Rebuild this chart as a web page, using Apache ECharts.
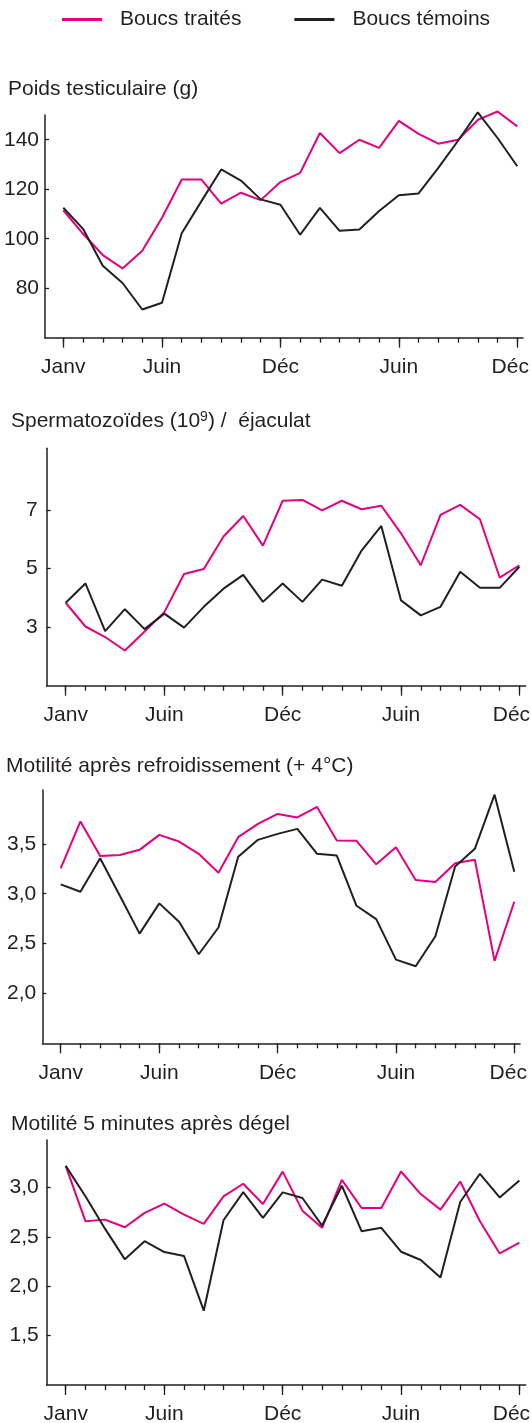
<!DOCTYPE html>
<html>
<head>
<meta charset="utf-8">
<script src="https://cdn.jsdelivr.net/npm/echarts@6/dist/echarts.min.js"></script>
<style>
html,body{margin:0;padding:0;background:#fff;}
#chart{width:531px;height:1423px;}
</style>
</head>
<body>
<div id="chart"></div>
<script>
// ---- data ----
const seriesNames = ['Boucs traités', 'Boucs témoins'];
const monthTickLabels = ['Janv', 'Juin', 'Déc', 'Juin', 'Déc'];
const monthTickIndex = [0, 5, 11, 17, 23];
const monthIndex = [0,1,2,3,4,5,6,7,8,9,10,11,12,13,14,15,16,17,18,19,20,21,22,23];

const panelTitles = ['Poids testiculaire (g)', 'SPERM', 'Motilité après refroidissement (+ 4°C)', 'Motilité 5 minutes après dégel'];

const poidsTraites = [111.5, 102, 93.4, 88, 95.1, 108.5, 123.9, 123.9, 114.2, 118.6, 115.6, 122.9, 126.6, 142.7, 134.6, 140, 136.7, 147.6, 142.4, 138.4, 140, 148, 151.4, 145.4];
const poidsTemoins = [112.5, 104, 89.1, 82.1, 71.4, 74.1, 102.2, 115.2, 128, 123.5, 115.9, 113.7, 101.6, 112.5, 103.2, 103.7, 111.2, 117.6, 118.3, 128.6, 139.6, 151.1, 140.7, 129.3];
const poidsTicks = [80, 100, 120, 140];

const spermTraites = [3.83, 3.02, 2.66, 2.2, 2.85, 3.51, 4.81, 4.98, 6.09, 6.79, 5.78, 7.31, 7.34, 6.98, 7.31, 7.02, 7.14, 6.2, 5.11, 6.83, 7.17, 6.68, 4.69, 5.11];
const spermTemoins = [3.83, 4.49, 2.86, 3.61, 2.93, 3.46, 2.98, 3.69, 4.31, 4.78, 3.86, 4.49, 3.86, 4.62, 4.41, 5.61, 6.45, 3.91, 3.4, 3.69, 4.89, 4.34, 4.34, 5.06];
const spermTicks = [3, 5, 7];

const refrTraites = [3.255, 3.725, 3.379, 3.389, 3.44, 3.59, 3.523, 3.4, 3.21, 3.567, 3.7, 3.8, 3.765, 3.87, 3.534, 3.53, 3.295, 3.466, 3.138, 3.117, 3.305, 3.34, 2.326, 2.92];
const refrTemoins = [3.094, 3.02, 3.356, 2.98, 2.6, 2.903, 2.718, 2.393, 2.661, 3.37, 3.54, 3.6, 3.65, 3.4, 3.383, 2.879, 2.745, 2.339, 2.272, 2.574, 3.272, 3.45, 3.993, 3.221];
const refrTicks = [2.0, 2.5, 3.0, 3.5];

const degelTraites = [3.218, 2.658, 2.674, 2.597, 2.742, 2.836, 2.725, 2.631, 2.909, 3.037, 2.832, 3.16, 2.765, 2.591, 3.077, 2.792, 2.792, 3.161, 2.933, 2.775, 3.06, 2.658, 2.332, 2.44];
const degelTemoins = [3.218, 2.91, 2.58, 2.272, 2.456, 2.346, 2.305, 1.752, 2.668, 2.953, 2.691, 2.95, 2.893, 2.614, 3.017, 2.557, 2.591, 2.349, 2.265, 2.087, 2.852, 3.138, 2.899, 3.07];
const degelTicks = [1.5, 2.0, 2.5, 3.0];

// ---- layout ----
const FONT = '"Liberation Sans", Arial, Helvetica, sans-serif';
const FS = 21;
const TXT = '#231f20';
const PINK = '#e5007e';
const BLACK = '#231f20';

const panels = [
  {grid:{left:45, right:8, top:115, height:222.7}, x:[-0.927, 23.29], y:[60,150], ticks:poidsTicks, fmt:v=>String(v), a:poidsTraites, b:poidsTemoins, ylm:6, lastPad:14},
  {grid:{left:46.7, right:5.3, top:448.3, height:237.4}, x:[-0.963, 23.32], y:[1,9.1], ticks:spermTicks, fmt:v=>String(v), a:spermTraites, b:spermTemoins, ylm:9, lastPad:16},
  {grid:{left:42.3, right:11, top:790, height:253.3}, x:[-0.933, 23.29], y:[1.5,4.04], ticks:refrTicks, fmt:v=>v.toFixed(1).replace('.', ','), a:refrTraites, b:refrTemoins, ylm:6, lastPad:12},
  {grid:{left:46.7, right:5.3, top:1140, height:245}, x:[-0.963, 23.32], y:[1.0,3.48], ticks:degelTicks, fmt:v=>v.toFixed(1).replace('.', ','), a:degelTraites, b:degelTemoins, ylm:8, lastPad:16}
];
const titlePos = [{left:8, top:79}, {left:11, top:410}, {left:6, top:756}, {left:11, top:1114}];

const grids = [], xAxes = [], yAxes = [], series = [], titles = [];
panels.forEach((p, i) => {
  grids.push(Object.assign({outerBoundsMode:'none', containLabel:false}, p.grid));
  xAxes.push({
    type:'value', gridIndex:i, min:p.x[0], max:p.x[1], position:'bottom',
    axisLine:{show:true, onZero:false, lineStyle:{color:BLACK, width:1.5}},
    axisTick:{show:true, customValues:monthIndex, length:5, lineStyle:{color:BLACK, width:1.3}},
    axisLabel:{show:false}, splitLine:{show:false}
  });
  xAxes.push({
    type:'value', gridIndex:i, min:p.x[0], max:p.x[1], position:'bottom',
    axisLine:{show:false, onZero:false},
    axisTick:{show:true, customValues:monthTickIndex, length:10, lineStyle:{color:BLACK, width:1.3}},
    axisLabel:{show:true, customValues:monthTickIndex, margin:19, fontSize:FS, color:TXT, fontFamily:FONT,
      rich:{r:{fontSize:FS, color:TXT, fontFamily:FONT, padding:[0, p.lastPad, 0, 0]}},
      formatter:v=>{
        const k = monthTickIndex.indexOf(Math.round(v));
        if (k < 0) return '';
        return k === monthTickIndex.length - 1 ? '{r|' + monthTickLabels[k] + '}' : monthTickLabels[k];
      }},
    splitLine:{show:false}
  });
  yAxes.push({
    type:'value', gridIndex:i, min:p.y[0], max:p.y[1],
    axisLine:{show:true, onZero:false, lineStyle:{color:BLACK, width:1.5}},
    axisTick:{show:true, inside:true, length:4, customValues:p.ticks, lineStyle:{color:BLACK, width:1.3}},
    axisLabel:{show:true, customValues:p.ticks, margin:p.ylm, fontSize:FS, color:TXT, fontFamily:FONT, formatter:p.fmt},
    splitLine:{show:false}
  });
  series.push({
    name:seriesNames[0], type:'line', xAxisIndex:i*2, yAxisIndex:i, clip:false, symbol:'none',
    lineStyle:{color:PINK, width:2}, itemStyle:{color:PINK}, z:3,
    data:p.a.map((v,k)=>[monthIndex[k], v])
  });
  series.push({
    name:seriesNames[1], type:'line', xAxisIndex:i*2, yAxisIndex:i, clip:false, symbol:'none',
    lineStyle:{color:BLACK, width:2}, itemStyle:{color:BLACK}, z:4,
    data:p.b.map((v,k)=>[monthIndex[k], v])
  });
  const t = {left:titlePos[i].left, top:titlePos[i].top, padding:0,
    textStyle:{fontSize:FS, fontWeight:'normal', color:TXT, fontFamily:FONT}};
  if (i === 1) {
    t.text = '{a|Spermatozoïdes (10}{s|9}{a|) /  éjaculat}';
    t.textStyle.rich = {
      a:{fontSize:FS, color:TXT, fontFamily:FONT},
      s:{fontSize:14, color:TXT, fontFamily:FONT, padding:[0,0,9,0]}
    };
  } else {
    t.text = panelTitles[i];
  }
  titles.push(t);
});

const chart = echarts.init(document.getElementById('chart'), null, {renderer:'canvas'});
chart.setOption({
  animation:false,
  backgroundColor:'#fff',
  title:titles,
  legend:{
    data:seriesNames, left:62, top:9, padding:0, itemWidth:40, itemHeight:3, itemGap:53, icon:'rect',
    textStyle:{fontSize:FS, color:TXT, fontFamily:FONT, padding:[0,0,0,13]}
  },
  grid:grids,
  xAxis:xAxes,
  yAxis:yAxes,
  series:series
});
</script>
</body>
</html>
